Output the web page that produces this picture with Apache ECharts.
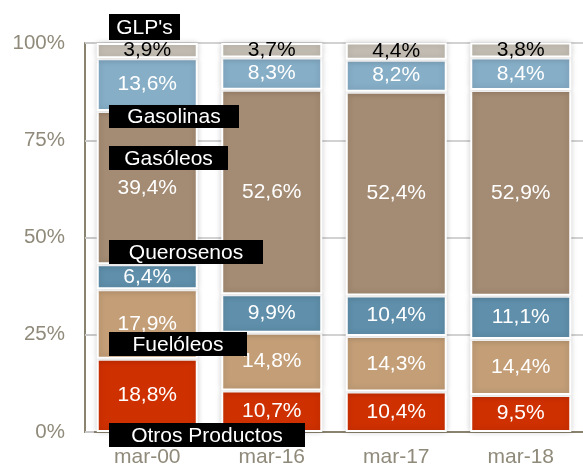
<!DOCTYPE html>
<html>
<head>
<meta charset="utf-8">
<script src="https://cdn.jsdelivr.net/npm/echarts@6/dist/echarts.min.js"></script>
<style>
    html, body { margin: 0; padding: 0; background: #fff; }
    #chart { width: 583px; height: 468px; }
</style>
</head>
<body>
<div id="chart"></div>
<script>
"use strict";
var categories = ["mar-00", "mar-16", "mar-17", "mar-18"];
var otros      = [18.8, 10.7, 10.4, 9.5];
var fueloleos  = [17.9, 14.8, 14.3, 14.4];
var querosenos = [6.4, 9.9, 10.4, 11.1];
var gasoleos   = [39.4, 52.6, 52.4, 52.9];
var gasolinas  = [13.6, 8.3, 8.2, 8.4];
var glps       = [3.9, 3.7, 4.4, 3.8];
var yTicks = [0, 25, 50, 75, 100];

var font = "Liberation Sans, Arial, sans-serif";

function serie(name, data, color, labelColor) {
    return {
        name: name,
        type: "bar",
        stack: "total",
        data: data,
        barWidth: 101,
        itemStyle: {
            color: color,
            borderColor: "#fff",
            borderWidth: 2,
            shadowColor: "rgba(0,0,0,0.18)",
            shadowBlur: 6
        },
        label: {
            show: true,
            position: "inside",
            color: labelColor,
            fontFamily: font,
            fontSize: 21,
            formatter: function (p) {
                return p.value.toFixed(1).replace(".", ",") + "%";
            }
        }
    };
}

// cajas negras con el nombre de cada producto
function caja(texto, x, y, w, h) {
    return {
        type: "group",
        left: x,
        top: y,
        children: [
            { type: "rect", z: 100, shape: { x: 0, y: 0, width: w, height: h }, style: { fill: "#000" } },
            {
                type: "text",
                z: 101,
                x: w / 2,
                y: h / 2 + 1,
                style: {
                    text: texto, fill: "#fff", font: "21px " + font,
                    textAlign: "center", textVerticalAlign: "middle"
                }
            }
        ]
    };
}

var chart = echarts.init(document.getElementById("chart"));
chart.setOption({
    animation: false,
    grid: { left: 85, top: 43, width: 512, height: 390 },
    xAxis: {
        type: "category",
        data: categories,
        axisLine: { lineStyle: { color: "#8a836f", width: 2 } },
        axisTick: { show: false },
        axisLabel: { color: "#8f8a7a", fontFamily: font, fontSize: 21, margin: 15 }
    },
    yAxis: {
        type: "value",
        min: yTicks[0],
        max: yTicks[yTicks.length - 1],
        interval: 25,
        axisLine: { show: true, lineStyle: { color: "#8a836f", width: 2 } },
        axisTick: { show: true, inside: true, length: 9, lineStyle: { color: "#c9c9c9", width: 2 } },
        splitLine: { lineStyle: { color: "#d2d2d2", width: 2 } },
        axisLabel: {
            color: "#8f8a7a", fontFamily: font, fontSize: 20.5, margin: 20,
            formatter: function (v) { return v + "%"; }
        }
    },
    series: [
        serie("Otros Productos", otros, "#cf3000", "#fff"),
        serie("Fuelóleos", fueloleos, "#c39e77", "#fff"),
        serie("Querosenos", querosenos, "#5f8fab", "#fff"),
        serie("Gasóleos", gasoleos, "#a48b73", "#fff"),
        serie("Gasolinas", gasolinas, "#86aec7", "#fff"),
        serie("GLP's", glps, "#c3bdb3", "#000")
    ],
    graphic: [
        {
            type: "text", left: 509, top: -12,
            style: { text: "Unidad: %", fill: "#666", font: "16px " + font }
        },
        caja("GLP's", 109, 14, 71, 26),
        caja("Gasolinas", 109, 105, 130, 23),
        caja("Gasóleos", 109, 146, 119, 24),
        caja("Querosenos", 109, 240, 154, 24),
        caja("Fuelóleos", 109, 332, 138, 24),
        caja("Otros Productos", 109, 423, 196, 24)
    ]
});
</script>
</body>
</html>
